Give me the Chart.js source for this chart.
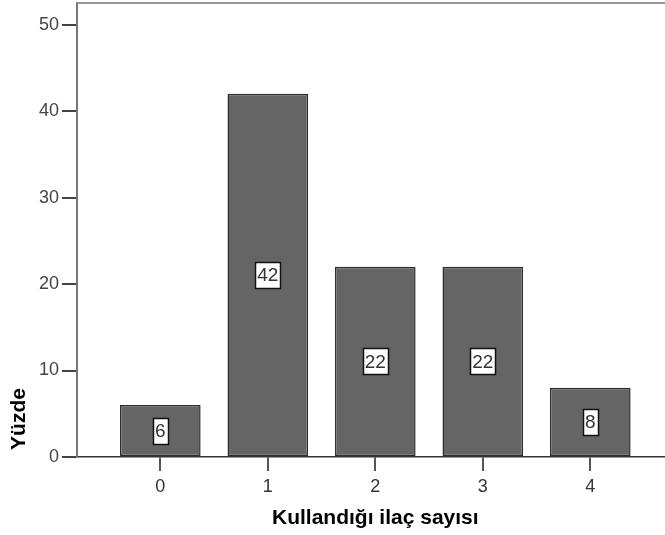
<!DOCTYPE html>
<html>
<head>
<meta charset="utf-8">
<script src="https://cdn.jsdelivr.net/npm/chart.js@4/dist/chart.umd.min.js"></script>
<style>
  html, body { margin: 0; padding: 0; background: #fff; overflow: hidden; }
  #wrap { width: 665px; height: 535px; }
</style>
</head>
<body>
<div id="wrap"><canvas id="c" width="665" height="535"></canvas></div>
<script>
// Number of medications used (Kullandığı ilaç sayısı) vs. percentage (Yüzde)
const categories = [0, 1, 2, 3, 4];
const percentages = [6, 42, 22, 22, 8];
const yTickValues = [0, 10, 20, 30, 40, 50];
const xTitle = 'Kullandığı ilaç sayısı';
const yTitle = 'Yüzde';

const FONT = '"Liberation Sans", Arial, sans-serif';

// White boxed value labels in the middle of each bar
const valueLabels = {
  id: 'valueLabels',
  afterDatasetsDraw(chart) {
    const ctx = chart.ctx;
    const meta = chart.getDatasetMeta(0);
    ctx.save();
    ctx.font = '19px ' + FONT;
    ctx.textAlign = 'center';
    ctx.textBaseline = 'middle';
    meta.data.forEach((bar, i) => {
      const txt = String(percentages[i]);
      const cy = (bar.y + bar.base) / 2;
      const w = Math.round(ctx.measureText(txt).width) + 4;
      const h = 26;
      const x0 = Math.round(bar.x - w / 2) + 0.5;
      const y0 = Math.round(cy - h / 2) + 0.5;
      ctx.fillStyle = '#ffffff';
      ctx.fillRect(x0, y0, w, h);
      ctx.strokeStyle = '#111111';
      ctx.lineWidth = 1.5;
      ctx.strokeRect(x0, y0, w, h);
      ctx.fillStyle = '#333333';
      ctx.fillText(txt, bar.x, cy + 1);
    });
    ctx.restore();
  }
};

// Frame top line and axis titles
const frameAndTitles = {
  id: 'frameAndTitles',
  afterDraw(chart) {
    const ctx = chart.ctx;
    const a = chart.chartArea;
    ctx.save();
    ctx.strokeStyle = '#999999';
    ctx.lineWidth = 2;
    ctx.beginPath();
    ctx.moveTo(a.left, a.top);
    ctx.lineTo(a.right, a.top);
    ctx.stroke();

    ctx.fillStyle = '#000000';
    ctx.font = 'bold 21px ' + FONT;
    ctx.textAlign = 'center';
    ctx.textBaseline = 'middle';
    const xs = chart.scales.x;
    const midX = (xs.getPixelForValue(categories[0]) + xs.getPixelForValue(categories[categories.length - 1])) / 2;
    ctx.fillText(xTitle, midX, 518);

    ctx.translate(19, 419);
    ctx.rotate(-Math.PI / 2);
    ctx.fillText(yTitle, 0, 0);
    ctx.restore();
  }
};

new Chart(document.getElementById('c'), {
  type: 'bar',
  data: {
    datasets: [{
      data: categories.map((c, i) => ({ x: c, y: percentages[i] })),
      backgroundColor: '#656565',
      borderColor: '#2e2e2e',
      borderWidth: 1.5,
      borderSkipped: false,
      barPercentage: 0.75,
      categoryPercentage: 1.0
    }]
  },
  options: {
    responsive: false,
    animation: false,
    devicePixelRatio: 1,
    layout: { padding: { top: 3, right: 0, left: 0, bottom: 0 } },
    plugins: {
      legend: { display: false },
      tooltip: { enabled: false }
    },
    scales: {
      x: {
        type: 'linear',
        offset: false,
        min: -0.775,
        max: 4.695,
        afterBuildTicks: (s) => { s.ticks = categories.map(v => ({ value: v })); },
        afterFit: (s) => { s.height = 78; s.paddingLeft = 0; s.paddingRight = 0; },
        grid: {
          offset: false,
          drawOnChartArea: false,
          drawTicks: true,
          tickLength: 14,
          tickColor: '#555555',
          lineWidth: 2
        },
        border: { display: true, color: '#333333', width: 1.5 },
        ticks: {
          padding: 5,
          color: '#333333',
          font: { family: FONT, size: 18 },
          callback: (v) => String(v),
          maxRotation: 0
        }
      },
      y: {
        min: 0,
        max: 52.5,
        afterBuildTicks: (s) => { s.ticks = yTickValues.map(v => ({ value: v })); },
        afterFit: (s) => { s.width = 77; s.paddingTop = 0; s.paddingBottom = 0; },
        grid: {
          drawOnChartArea: false,
          drawTicks: true,
          tickLength: 15,
          tickColor: '#444444',
          lineWidth: 2
        },
        border: { display: true, color: '#777777', width: 2 },
        ticks: {
          padding: 3,
          color: '#444444',
          font: { family: FONT, size: 18 },
          callback: (v) => String(v)
        }
      }
    }
  },
  plugins: [valueLabels, frameAndTitles]
});
</script>
</body>
</html>
